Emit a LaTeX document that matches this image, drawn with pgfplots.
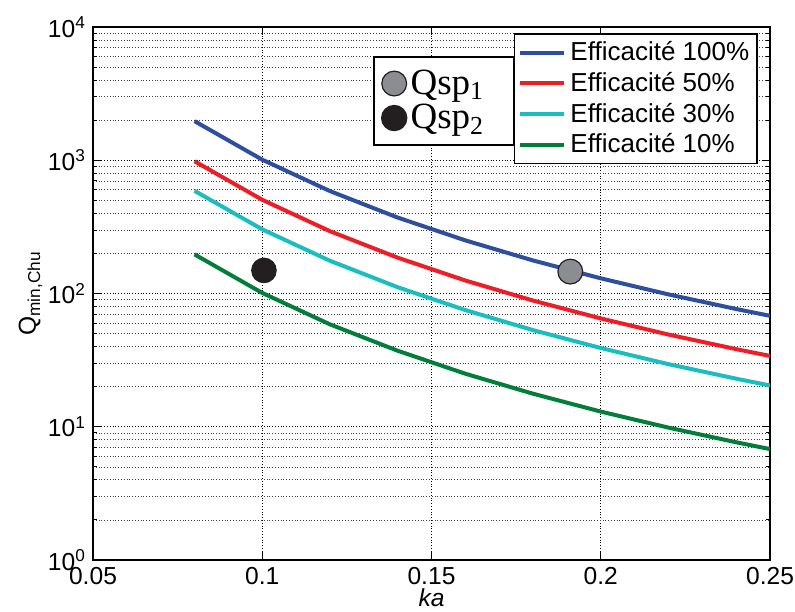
\documentclass[border=0pt]{standalone}
\usepackage{pgfplots}
\pgfplotsset{compat=1.18}
\usepackage{fontspec}
\setmainfont{Liberation Sans}
\newfontfamily\tim{Liberation Serif}
\definecolor{cblue}{RGB}{46,78,160}
\definecolor{cred}{RGB}{236,30,38}
\definecolor{ccyan}{RGB}{26,190,192}
\definecolor{cgreen}{RGB}{0,126,58}
\definecolor{cgray}{RGB}{140,141,146}
\definecolor{cblack}{RGB}{35,31,32}
\begin{document}
\begin{tikzpicture}
\begin{axis}[
  scale only axis, width=338.5pt, height=266.5pt,
  ymode=log, xmin=0.05, xmax=0.25, ymin=1, ymax=10000,
  xtick={0.05,0.1,0.15,0.2,0.25},
  xticklabels={0.05,0.1,0.15,0.2,0.25},
  ytick={1,10,100,1000,10000},
  yticklabels={10\textsuperscript{0},10\textsuperscript{1},10\textsuperscript{2},10\textsuperscript{3},10\textsuperscript{4}},
  tick label style={font=\fontsize{12.3}{14}\selectfont},
  tick align=inside, major tick length=4pt, minor tick length=2pt,
  grid=both,
  major grid style={black, densely dotted, line width=0.45pt},
  minor grid style={black!75, densely dotted, line width=0.35pt},
  axis line style={line width=0.75pt},
  every tick/.style={black, line width=0.4pt},
  xlabel={\textit{ka}}, ylabel={Q\textsubscript{min,Chu}},
  label style={font=\fontsize{12.3}{14}\selectfont},
  xlabel style={yshift=5pt},
  ylabel style={yshift=-4pt},
  legend style={at={(1,1)}, anchor=north east, xshift=-6pt, yshift=-3pt,
    draw=black, line width=0.8pt, font=\fontsize{13}{15.5}\selectfont,
    row sep=0.2pt, inner xsep=2pt, inner ysep=2pt},
  legend cell align=left,
  legend image code/.code={\draw[#1, line width=2pt] (0pt,0pt) -- (22pt,0pt);},
  every axis plot/.append style={line width=2pt},
]
\addplot[cblue] coordinates {(0.08,1965.6) (0.10,1010) (0.12,587.0) (0.14,371.6) (0.16,250.4) (0.18,177.0) (0.20,130.0) (0.22,98.46) (0.24,76.5) (0.25,68.0)};
\addlegendentry{Efficacité 100\%}
\addplot[cred] coordinates {(0.08,982.8) (0.10,505) (0.12,293.5) (0.14,185.8) (0.16,125.2) (0.18,88.5) (0.20,65.0) (0.22,49.2) (0.24,38.25) (0.25,34.0)};
\addlegendentry{Efficacité 50\%}
\addplot[ccyan] coordinates {(0.08,589.7) (0.10,303) (0.12,176.1) (0.14,111.5) (0.16,75.1) (0.18,53.1) (0.20,39.0) (0.22,29.5) (0.24,22.95) (0.25,20.4)};
\addlegendentry{Efficacité 30\%}
\addplot[cgreen] coordinates {(0.08,196.6) (0.10,101) (0.12,58.7) (0.14,37.2) (0.16,25.0) (0.18,17.7) (0.20,13.0) (0.22,9.85) (0.24,7.65) (0.25,6.8)};
\addlegendentry{Efficacité 10\%}
\end{axis}
\begin{axis}[
  scale only axis, width=338.5pt, height=266.5pt,
  ymode=log, xmin=0.05, xmax=0.25, ymin=1, ymax=10000,
  hide axis,
  legend style={at={(0,1)}, anchor=north west, xshift=140pt, yshift=-14.5pt,
    draw=black, line width=0.8pt, font=\tim\fontsize{18.5}{21}\selectfont,
    row sep=-0.5pt, inner xsep=4pt, inner ysep=4.5pt},
  legend cell align=left,
]
\addplot[only marks, mark=*, mark size=6.2pt, mark options={fill=cgray, draw=cblack, line width=0.6pt}] coordinates {(0.191,146)};
\addlegendentry{Qsp\textsubscript{1}\rule{9pt}{0pt}}
\addplot[only marks, mark=*, mark size=6.2pt, mark options={fill=cblack, draw=cblack}] coordinates {(0.1005,149)};
\addlegendentry{Qsp\textsubscript{2}\rule{9pt}{0pt}}
\end{axis}
\pgfresetboundingbox
\path[use as bounding box] ([xshift=-46.5pt,yshift=-25.5pt]current axis.south west) rectangle ([xshift=12.5pt,yshift=13.5pt]current axis.north east);
\end{tikzpicture}
\end{document}
